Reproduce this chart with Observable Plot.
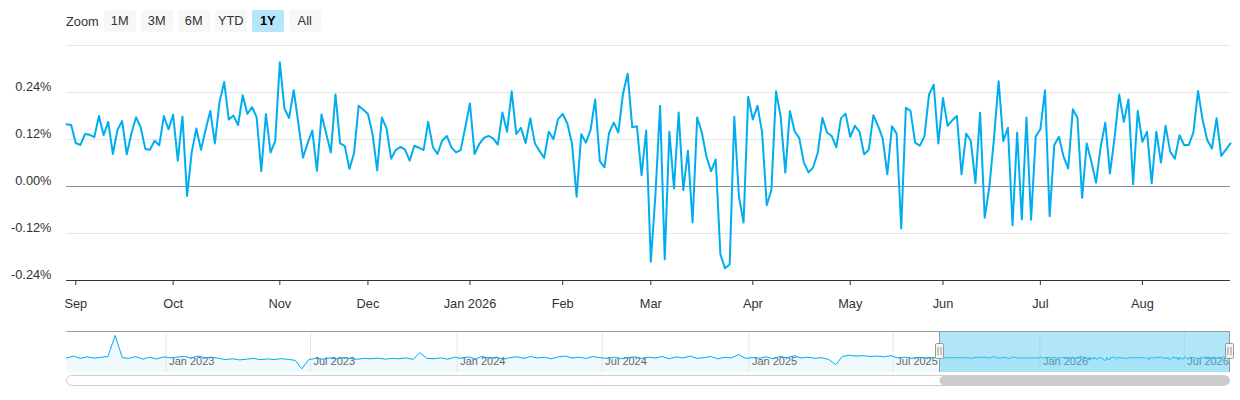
<!DOCTYPE html>
<html>
<head>
<meta charset="utf-8">
<script src="https://cdn.jsdelivr.net/npm/d3@7"></script>
<script src="https://cdn.jsdelivr.net/npm/@observablehq/plot@0.6"></script>
<style>
  body { margin: 0; background: #fff; font-family: "Liberation Sans", Arial, sans-serif; }
  #wrap { position: relative; width: 1240px; height: 400px; overflow: hidden; }
  #main { position: absolute; left: 0; top: 0; }
  #nav { position: absolute; left: 0; top: 326px; }
  #zoom { position: absolute; left: 66px; top: 10px; height: 22px; display: flex; align-items: center;
          font-size: 12.8px; color: #333; z-index: 2; }
  #zoom .lbl { margin-right: 5px; }
  #zoom .btn { width: 32px; height: 22px; line-height: 22px; text-align: center; background: #f7f7f7;
               border-radius: 2px; margin-right: 5px; color: #333; }
  #zoom .btn.sel { background: #b5e5f8; font-weight: bold; color: #000; }
  svg { display: block; }
</style>
</head>
<body>
<div id="wrap">
  <div id="main"></div>
  <div id="nav"></div>
  <div id="zoom"></div>
</div>
<script>
// ---------- data ----------
const zoomButtons = ["1M", "3M", "6M", "YTD", "1Y", "All"];
const selectedButton = "1Y";

// daily values (%), one per trading day from 2025-08-28 to 2026-08-28
const dailyReturn = [
  0.159,0.157,0.111,0.106,0.134,0.132,0.126,0.180,0.131,0.165,
  0.083,0.145,0.167,0.082,0.136,0.177,0.151,0.096,0.094,0.117,
  0.105,0.180,0.146,0.183,0.066,0.179,-0.024,0.087,0.148,0.094,
  0.145,0.193,0.110,0.216,0.267,0.171,0.181,0.157,0.233,0.185,
  0.203,0.177,0.039,0.185,0.087,0.116,0.317,0.199,0.175,0.246,
  0.161,0.074,0.110,0.143,0.040,0.184,0.135,0.087,0.235,0.110,
  0.104,0.045,0.085,0.206,0.196,0.185,0.134,0.041,0.176,0.149,
  0.071,0.093,0.101,0.094,0.066,0.104,0.099,0.093,0.165,0.101,
  0.083,0.117,0.129,0.100,0.087,0.093,0.152,0.212,0.083,0.108,
  0.124,0.129,0.123,0.107,0.189,0.140,0.243,0.134,0.150,0.111,
  0.174,0.110,0.091,0.073,0.140,0.121,0.172,0.185,0.161,0.110,
  -0.026,0.134,0.112,0.144,0.222,0.065,0.049,0.137,0.163,0.138,
  0.237,0.288,0.151,0.154,0.029,0.143,-0.192,-0.020,0.206,-0.186,
  0.140,-0.005,0.189,-0.009,0.091,-0.092,0.176,0.138,0.076,0.039,
  0.069,-0.173,-0.209,-0.199,0.178,-0.026,-0.092,0.229,0.171,0.206,
  0.138,-0.048,-0.009,0.243,0.178,0.035,0.193,0.141,0.124,0.061,
  0.036,0.049,0.086,0.175,0.138,0.129,0.100,0.174,0.186,0.127,
  0.155,0.140,0.082,0.094,0.182,0.155,0.123,0.031,0.154,0.135,
  -0.107,0.201,0.193,0.112,0.104,0.128,0.235,0.260,0.110,0.226,
  0.155,0.169,0.180,0.031,0.135,0.117,0.009,0.188,-0.080,-0.001,
  0.123,0.269,0.116,0.150,-0.099,0.138,-0.084,0.176,-0.085,0.128,
  0.146,0.246,-0.076,0.106,0.127,0.076,0.046,0.197,0.175,-0.029,
  0.110,0.063,0.010,0.101,0.163,0.033,0.124,0.235,0.165,0.222,
  0.006,0.193,0.114,0.140,0.008,0.140,0.061,0.155,0.089,0.071,
  0.131,0.106,0.106,0.138,0.244,0.169,0.118,0.097,0.174,0.078,
  0.094,0.110
];

// market holidays inside the one-year window
const holidays = ["2025-09-01","2025-11-27","2025-12-25","2026-01-01","2026-01-19",
                  "2026-02-16","2026-04-03","2026-05-25","2026-06-19","2026-07-03"];
const firstDay = "2025-08-28";

// y-axis ticks (%)
const yLabelTicks = [-0.24, -0.12, 0, 0.12, 0.24];
const yGridTicks = [-0.12, 0, 0.12, 0.24, 0.36];
const yDomain = [-0.24, 0.36];

// navigator: earlier history (coarse samples, %) from 2022-08-29 up to the selected year
const navStartDay = "2022-08-29";
const navHistory = [
  0.10,0.35,0.05,0.25,0.08,0.18,0.30,3.00,0.15,0.05,
  0.28,-0.05,0.20,-0.02,0.25,0.12,0.22,0.30,0.10,0.35,
  0.12,0.20,0.05,-0.10,0.00,-0.15,-0.05,0.05,-0.12,-0.02,
  -0.10,0.02,-0.08,-0.20,-1.30,-0.10,0.05,-0.05,0.10,0.00,
  0.15,0.02,-0.05,0.05,0.00,0.08,-0.05,0.05,0.00,0.10,
  -0.08,0.80,0.05,0.00,0.12,-0.05,0.20,0.05,0.25,-0.02,
  0.30,0.08,0.20,-0.05,0.15,0.25,0.05,0.30,0.10,0.20,
  0.00,0.25,0.35,0.10,0.20,0.05,0.28,0.15,0.05,0.20,
  0.00,0.15,0.25,0.05,0.20,0.10,0.30,0.00,0.25,0.10,
  0.35,0.05,0.15,0.30,0.00,0.20,0.10,0.55,0.05,0.15,
  0.08,0.25,0.00,0.30,0.12,0.40,0.10,0.20,0.05,0.15,
  -0.10,-0.75,0.30,0.45,0.35,0.40,0.30,0.35,0.25,0.40,
  0.10,0.20,0.05,0.18,0.10,0.15
];
const navTickDates = ["2023-01-01","2023-07-01","2024-01-01","2024-07-01",
                      "2025-01-01","2025-07-01","2026-01-01","2026-07-01"];
const navYDomain = [-1.77, 3.515];

// ---------- build ----------
(function build() {
const FONT = '"Liberation Sans", Arial, sans-serif';
const LINE = "#00aeef";
const parse = s => new Date(s + "T00:00:00Z");
const DAY = 86400000;

// trading days
const holidaySet = new Set(holidays);
const tradingDays = [];
for (let t = parse(firstDay).getTime(); tradingDays.length < dailyReturn.length; t += DAY) {
  const d = new Date(t);
  const wd = d.getUTCDay();
  const iso = d.toISOString().slice(0, 10);
  if (wd === 0 || wd === 6 || holidaySet.has(iso)) continue;
  tradingDays.push(d);
}
const mainData = dailyReturn.map((v, i) => ({i, v, date: tradingDays[i]}));

// month tick indices = first trading day of each month
const monthNames = ["Jan","Feb","Mar","Apr","May","Jun","Jul","Aug","Sep","Oct","Nov","Dec"];
const monthTicks = [];
const monthLabel = new Map();
tradingDays.forEach((d, i) => {
  if (i === 0) return;
  if (d.getUTCMonth() !== tradingDays[i - 1].getUTCMonth()) {
    monthTicks.push(i);
    const m = d.getUTCMonth();
    monthLabel.set(i, m === 0 ? `${monthNames[m]} ${d.getUTCFullYear()}` : monthNames[m]);
  }
});

// zoom buttons
const zoomDiv = document.getElementById("zoom");
zoomDiv.innerHTML = `<span class="lbl">Zoom</span>` +
  zoomButtons.map(b => `<span class="btn${b === selectedButton ? " sel" : ""}">${b}</span>`).join("");

// main chart
const main = Plot.plot({
  width: 1240, height: 322,
  marginLeft: 66, marginRight: 10, marginTop: 45, marginBottom: 42,
  style: {fontFamily: FONT, fontSize: "12.8px", color: "#333", background: "transparent", overflow: "visible"},
  x: {domain: [0, dailyReturn.length - 1]},
  y: {domain: yDomain},
  marks: [
    Plot.ruleY(yGridTicks, {stroke: "#e6e6e6", strokeOpacity: 1}),
    Plot.ruleY([0], {stroke: "#7d91a5", strokeOpacity: 1}),
    Plot.ruleY([yDomain[0]], {stroke: "#333", strokeOpacity: 1}),
    Plot.axisY(yLabelTicks, {tickSize: 0, tickPadding: 15, dy: -6, label: null,
      tickFormat: d => d.toFixed(2) + "%", fill: "#333"}),
    Plot.axisX(monthTicks, {tickSize: 5, tickPadding: 13, label: null, stroke: "#333",
      tickFormat: i => monthLabel.get(i), fill: "#333"}),
    Plot.lineY(mainData, {x: "i", y: "v", stroke: LINE, strokeWidth: 2, strokeLinejoin: "round"})
  ]
});
document.getElementById("main").appendChild(main);

// navigator
const navStart = parse(navStartDay);
const histStep = (tradingDays[0] - navStart) / navHistory.length;
const navData = navHistory.map((v, k) => ({date: new Date(navStart.getTime() + Math.round(k * histStep / DAY) * DAY), v}))
  .concat(mainData.map(d => ({date: d.date, v: d.v})));
const lastDay = tradingDays[tradingDays.length - 1];
const navTicks = navTickDates.map(parse);

const nav = Plot.plot({
  width: 1240, height: 64,
  marginLeft: 66, marginRight: 10, marginTop: 5, marginBottom: 18,
  style: {fontFamily: FONT, fontSize: "11px", color: "#666", background: "transparent", overflow: "visible"},
  x: {type: "utc", domain: [navStart, lastDay], axis: null},
  y: {domain: navYDomain, axis: null},
  marks: [
    Plot.areaY(navData, {x: "date", y1: navYDomain[0], y2: "v", fill: "#f0f9fe"}),
    Plot.ruleX(navTicks, {stroke: "#e6e6e6", strokeOpacity: 1}),
    Plot.text(navTicks, {x: d => d, frameAnchor: "bottom", textAnchor: "start", dx: 3, dy: -8,
      text: d => `${monthNames[d.getUTCMonth()]} ${d.getUTCFullYear()}`, fill: "#666", fontSize: 11}),
    Plot.lineY(navData, {x: "date", y: "v", stroke: LINE, strokeWidth: 1})
  ]
});
document.getElementById("nav").appendChild(nav);

// navigator chrome positioned through the plot's own x scale
const sx = nav.scale("x");
const x0 = Math.round(sx.apply(tradingDays[0])) + 0.5;
const x1 = Math.round(sx.apply(lastDay)) - 0.5;
const bL = 66.5, bR = 1229.5, bT = 5.5, bB = 46;
const g = d3.select(nav).append("g");
g.append("rect").attr("x", x0).attr("y", bT).attr("width", x1 - x0).attr("height", bB - bT)
  .attr("fill", "rgba(80,200,240,0.45)");
g.append("path").attr("d", `M${bL},${bT}H${bR}M${x0},${bT}V${bB}M${x1},${bT}V${bB}`)
  .attr("stroke", "#999").attr("fill", "none");
for (const hx of [x0, x1]) {
  g.append("rect").attr("x", hx - 4).attr("y", 17.5).attr("width", 8).attr("height", 15).attr("rx", 1)
    .attr("fill", "#f2f2f2").attr("stroke", "#999");
  g.append("path").attr("d", `M${hx - 1.5},21V29M${hx + 1.5},21V29`).attr("stroke", "#999").attr("fill", "none");
}
// scrollbar
g.append("rect").attr("x", bL).attr("y", 49.5).attr("width", bR - bL).attr("height", 10).attr("rx", 5)
  .attr("fill", "#fff").attr("stroke", "#ccc");
g.append("rect").attr("x", x0).attr("y", 50).attr("width", x1 - x0).attr("height", 9).attr("rx", 4.5)
  .attr("fill", "#ccc");
})();
</script>
</body>
</html>
